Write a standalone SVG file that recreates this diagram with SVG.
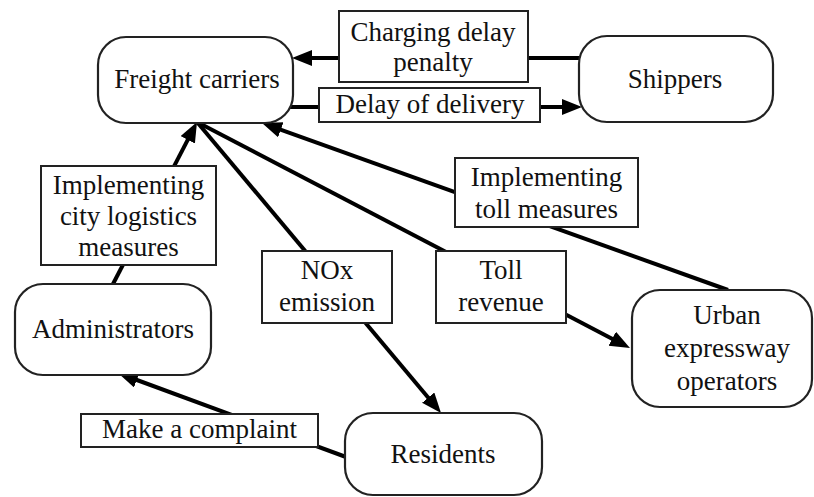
<svg xmlns="http://www.w3.org/2000/svg" width="814" height="497" viewBox="0 0 814 497">
<style>
.node{fill:#fff;stroke:#222;stroke-width:2.2}
.lbl{fill:#fff;stroke:#222;stroke-width:2}
.t{font-family:'Liberation Serif','Times New Roman',serif;font-size:27px;fill:#111;text-anchor:middle}
.c{fill:none;stroke:#000;stroke-width:4}
</style>
<defs>
<marker id="ah" markerUnits="userSpaceOnUse" markerWidth="22" markerHeight="18" refX="10" refY="8" orient="auto">
<path d="M0,0 L20,8 L0,16 z" fill="#000"/>
</marker>
</defs>
<g id="connectors">
<path class="c" d="M580,58 L302,58" marker-end="url(#ah)"/>
<path class="c" d="M288,107 L572,107" marker-end="url(#ah)"/>
<path class="c" d="M113,284 L192.4,130.9" marker-end="url(#ah)"/>
<path class="c" d="M197,122 L434.6,405.3" marker-end="url(#ah)"/>
<path class="c" d="M197,122 L621.1,343.4" marker-end="url(#ah)"/>
<path class="c" d="M728,290 L271.4,126.4" marker-end="url(#ah)"/>
<path class="c" d="M346,457 L127.4,376.5" marker-end="url(#ah)"/>
</g>
<g id="freight-carriers">
<rect class="node" x="98" y="37" width="195" height="86" rx="28"/>
<text class="t" x="197" y="88">Freight carriers</text>
</g>
<g id="shippers">
<rect class="node" x="579" y="36" width="194" height="86" rx="28"/>
<text class="t" x="675" y="88">Shippers</text>
</g>
<g id="administrators">
<rect class="node" x="15" y="284" width="196" height="91" rx="28"/>
<text class="t" x="113" y="338">Administrators</text>
</g>
<g id="residents">
<rect class="node" x="345" y="413" width="197" height="82" rx="28"/>
<text class="t" x="443" y="463">Residents</text>
</g>
<g id="urban-expressway-operators">
<rect class="node" x="632" y="290" width="180" height="117" rx="28"/>
<text class="t" x="727" y="324">Urban</text>
<text class="t" x="727" y="357">expressway</text>
<text class="t" x="727" y="390">operators</text>
</g>
<g id="label-charging-delay-penalty">
<rect class="lbl" x="339" y="11" width="189" height="71"/>
<text class="t" x="433" y="41">Charging delay</text>
<text class="t" x="433" y="71">penalty</text>
</g>
<g id="label-delay-of-delivery">
<rect class="lbl" x="319" y="88" width="221" height="34"/>
<text class="t" x="430" y="113">Delay of delivery</text>
</g>
<g id="label-city-logistics">
<rect class="lbl" x="41" y="166" width="175" height="99"/>
<text class="t" x="128.5" y="194">Implementing</text>
<text class="t" x="128.5" y="225">city logistics</text>
<text class="t" x="128.5" y="256">measures</text>
</g>
<g id="label-nox-emission">
<rect class="lbl" x="262" y="251" width="130" height="72"/>
<text class="t" x="327" y="279">NOx</text>
<text class="t" x="327" y="311">emission</text>
</g>
<g id="label-toll-revenue">
<rect class="lbl" x="436" y="251" width="130" height="72"/>
<text class="t" x="501" y="279">Toll</text>
<text class="t" x="501" y="311">revenue</text>
</g>
<g id="label-toll-measures">
<rect class="lbl" x="455" y="158" width="183" height="69"/>
<text class="t" x="546.5" y="186">Implementing</text>
<text class="t" x="546.5" y="218">toll measures</text>
</g>
<g id="label-make-a-complaint">
<rect class="lbl" x="81" y="414" width="237" height="33"/>
<text class="t" x="199.5" y="438">Make a complaint</text>
</g>
</svg>
